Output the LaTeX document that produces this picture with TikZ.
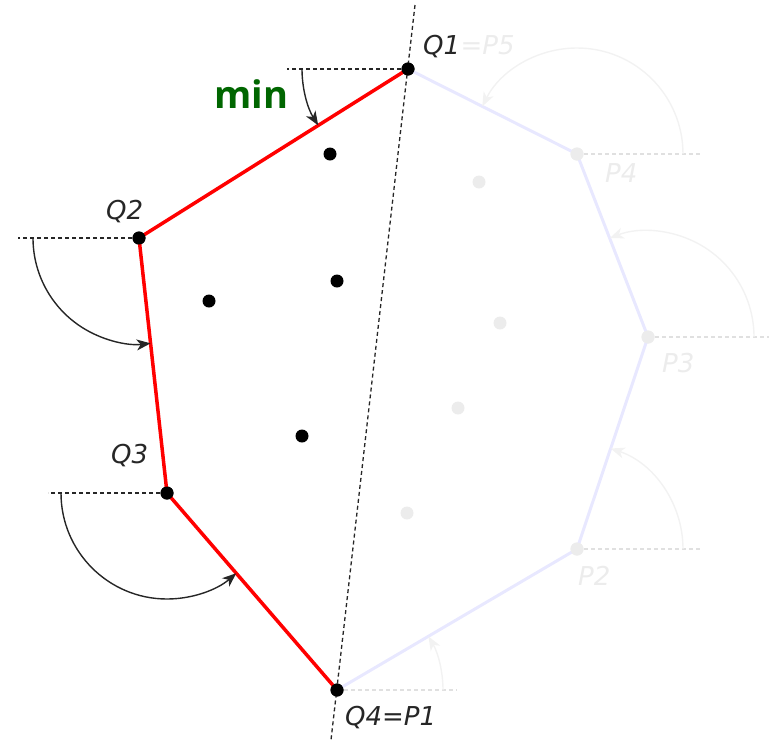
\documentclass[tikz,border=0pt]{standalone}
\usepackage{fontspec}
\setmainfont{DejaVu Sans}
\newfontfamily\minfont{Open Sans}
\usetikzlibrary{arrows.meta}

\definecolor{hullred}{RGB}{255,0,0}
\definecolor{mingreen}{RGB}{0,102,0}
\definecolor{fadeline}{RGB}{232,232,255}
\definecolor{fadegray}{RGB}{236,236,236}
\definecolor{fadearc}{RGB}{242,242,242}

\begin{document}
\begin{tikzpicture}[
  x=1pt, y=-1pt,
  pt/.style={circle, fill=black, inner sep=0pt, minimum size=13pt},
  fadept/.style={circle, fill=fadegray, inner sep=0pt, minimum size=13pt},
  hull/.style={hullred, line width=3.5pt},
  fadehull/.style={fadeline, line width=3pt},
  guide/.style={black!85, dash pattern=on 4pt off 3pt, line width=1.3pt},
  fadeguide/.style={black!12, dash pattern=on 4pt off 3pt, line width=1.2pt},
  turn/.style={black!85, line width=1.4pt, -{Stealth[length=14pt, width=11pt, inset=4pt]}},
  fadeturn/.style={fadearc, line width=1.4pt, -{Stealth[length=14pt, width=11pt, inset=4pt]}},
  lbl/.style={font=\itshape\fontsize{26}{26}\selectfont, text=black!85, inner sep=0pt},
  fadelbl/.style={lbl, text=fadegray}
]
  \useasboundingbox (0,0) rectangle (769,745);

  % hull points and the remaining points
  \node[pt] (Q1) at (408,69) {};
  \node[pt] (Q2) at (139,238) {};
  \node[pt] (Q3) at (167,493) {};
  \node[pt] (Q4) at (337,690) {};
  \node[fadept] (P2) at (577,549) {};
  \node[fadept] (P3) at (648,337) {};
  \node[fadept] (P4) at (577,154) {};
  \node[pt] (a1) at (330,154) {};
  \node[pt] (a2) at (337,281) {};
  \node[pt] (a3) at (209,301) {};
  \node[pt] (a4) at (302,436) {};
  \node[fadept] (b1) at (479,182) {};
  \node[fadept] (b2) at (500,323) {};
  \node[fadept] (b3) at (458,408) {};
  \node[fadept] (b4) at (407,513) {};

  % faded first pass
  \draw[fadehull] (Q4.center) -- (P2.center) -- (P3.center) -- (P4.center) -- (Q1.center);
  \draw[fadeguide] (Q4.center) -- ([xshift=120pt]Q4.center);
  \draw[fadeguide] (P2.center) -- ([xshift=123pt]P2.center);
  \draw[fadeguide] (P3.center) -- ([xshift=121pt]P3.center);
  \draw[fadeguide] (P4.center) -- ([xshift=123pt]P4.center);
  \draw[fadeturn] ([xshift=106pt]Q4.center) arc[start angle=0, end angle=30.4, radius=106pt];
  \draw[fadeturn] ([xshift=106pt]P2.center) arc[start angle=0, end angle=71.5, radius=106pt];
  \draw[fadeturn] ([xshift=106pt]P3.center) arc[start angle=0, end angle=111.2, radius=106pt];
  \draw[fadeturn] ([xshift=106pt]P4.center) arc[start angle=0, end angle=153.3, radius=106pt];
  \node[fadept] at (P2) {};
  \node[fadept] at (P3) {};
  \node[fadept] at (P4) {};

  % second pass
  \coordinate (top) at (415,5);
  \coordinate (bot) at (331,740);
  \draw[guide] (top) -- (bot);
  \draw[guide] (Q1.center) -- ([xshift=-121pt]Q1.center);
  \draw[guide] (Q2.center) -- ([xshift=-121pt]Q2.center);
  \draw[guide] (Q3.center) -- ([xshift=-119pt]Q3.center);
  \draw[hull] (Q1.center) -- (Q2.center) -- (Q3.center) -- (Q4.center);
  \draw[turn] ([xshift=-106pt]Q1.center) arc[start angle=180, end angle=212.1, radius=106pt];
  \draw[turn] ([xshift=-106pt]Q2.center) arc[start angle=180, end angle=276.3, radius=106pt];
  \draw[turn] ([xshift=-106pt]Q3.center) arc[start angle=180, end angle=310.8, radius=106pt];
  \foreach \n in {Q1,Q2,Q3,Q4}
    \node[pt] at (\n) {};

  % labels
  \node[lbl, anchor=base west] (lq1) at (423,54) {Q1};
  \node[fadelbl, anchor=base west] (lp5) at (lq1.base east) {=P5};
  \node[lbl, anchor=base west] (lq2) at (106,219) {Q2};
  \node[lbl, anchor=base west] (lq3) at (111,463) {Q3};
  \node[lbl, anchor=base west] (lq4) at (345,725) {Q4=P1};
  \node[fadelbl, anchor=base west] (lp4) at (605,182) {P4};
  \node[fadelbl, anchor=base west] (lp3) at (662,372) {P3};
  \node[fadelbl, anchor=base west] (lp2) at (578,585) {P2};
  \node[font=\minfont\bfseries\fontsize{38}{38}\selectfont, text=mingreen, inner sep=0pt, anchor=base west] (min) at (214,108) {min};
\end{tikzpicture}
\end{document}
